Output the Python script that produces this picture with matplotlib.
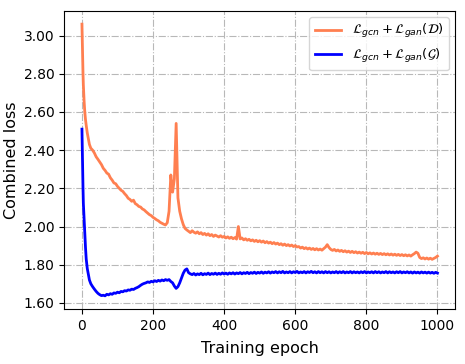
import numpy as np
import matplotlib
matplotlib.use('Agg')
import matplotlib.pyplot as plt
from matplotlib.ticker import FormatStrFormatter

# epochs: dense at the start, then every 5 epochs
epochs = [0, 1, 2, 3, 4, 6, 8, 10, 12, 15, 18, 21, 25] + list(range(30, 1001, 5))

# L_gcn + L_gan(D)
loss_d = [3.06, 2.97, 2.88, 2.80, 2.74, 2.66, 2.60, 2.56, 2.53, 2.49, 2.46, 2.43, 2.41,
          2.400, 2.385, 2.365, 2.352, 2.338, 2.324, 2.305, 2.294, 2.280, 2.274,
          2.255, 2.243, 2.228, 2.224, 2.210, 2.200, 2.190, 2.184, 2.172, 2.162,
          2.148, 2.142, 2.132, 2.138, 2.120, 2.114, 2.105, 2.102, 2.092, 2.087,
          2.078, 2.070, 2.062, 2.057, 2.048, 2.042, 2.035, 2.030, 2.022, 2.017,
          2.012, 2.008, 2.020, 2.080, 2.270, 2.180, 2.250, 2.540, 2.150, 2.080,
          2.040, 2.010, 1.990, 1.982, 1.975, 1.968, 1.978, 1.970, 1.965, 1.972,
          1.962, 1.968, 1.958, 1.964, 1.955, 1.962, 1.952, 1.958, 1.948, 1.955,
          1.950, 1.945, 1.952, 1.944, 1.948, 1.940, 1.946, 1.938, 1.944, 1.936,
          1.942, 1.934, 2.000, 1.935, 1.940, 1.930, 1.936, 1.928, 1.933, 1.925,
          1.930, 1.922, 1.928, 1.920, 1.926, 1.918, 1.924, 1.915, 1.921, 1.913,
          1.918, 1.910, 1.916, 1.908, 1.913, 1.905, 1.910, 1.902, 1.908, 1.900,
          1.905, 1.898, 1.903, 1.895, 1.900, 1.893, 1.895, 1.887, 1.892, 1.884,
          1.889, 1.882, 1.887, 1.880, 1.885, 1.878, 1.884, 1.877, 1.882, 1.876,
          1.884, 1.892, 1.905, 1.890, 1.880, 1.875, 1.880, 1.872, 1.877, 1.870,
          1.875, 1.868, 1.873, 1.866, 1.871, 1.864, 1.870, 1.863, 1.868, 1.861,
          1.866, 1.860, 1.865, 1.858, 1.864, 1.857, 1.862, 1.856, 1.861, 1.855,
          1.860, 1.854, 1.859, 1.853, 1.858, 1.852, 1.857, 1.851, 1.856, 1.850,
          1.855, 1.849, 1.854, 1.848, 1.853, 1.847, 1.852, 1.846, 1.851, 1.845,
          1.852, 1.858, 1.866, 1.860, 1.838, 1.832, 1.836, 1.830, 1.835, 1.829,
          1.834, 1.828, 1.833, 1.838, 1.845]

# L_gcn + L_gan(G)
loss_g = [2.51, 2.40, 2.30, 2.20, 2.12, 2.04, 1.96, 1.89, 1.83, 1.78, 1.75, 1.72, 1.70,
          1.685, 1.672, 1.660, 1.650, 1.643, 1.638, 1.640, 1.637, 1.645, 1.642,
          1.648, 1.645, 1.652, 1.650, 1.656, 1.653, 1.660, 1.658, 1.664, 1.662,
          1.668, 1.666, 1.672, 1.670, 1.676, 1.680, 1.685, 1.692, 1.698, 1.702,
          1.705, 1.710, 1.707, 1.713, 1.710, 1.716, 1.712, 1.718, 1.714, 1.720,
          1.716, 1.722, 1.718, 1.722, 1.712, 1.705, 1.688, 1.676, 1.685, 1.705,
          1.730, 1.755, 1.772, 1.778, 1.758, 1.752, 1.748, 1.754, 1.746, 1.752,
          1.748, 1.755, 1.747, 1.753, 1.749, 1.756, 1.748, 1.754, 1.750, 1.756,
          1.749, 1.755, 1.750, 1.757, 1.751, 1.756, 1.750, 1.757, 1.752, 1.758,
          1.751, 1.757, 1.753, 1.759, 1.752, 1.758, 1.754, 1.760, 1.753, 1.759,
          1.755, 1.761, 1.754, 1.760, 1.756, 1.762, 1.755, 1.761, 1.757, 1.763,
          1.756, 1.762, 1.758, 1.764, 1.757, 1.763, 1.758, 1.765, 1.757, 1.762,
          1.758, 1.764, 1.757, 1.763, 1.759, 1.765, 1.757, 1.762, 1.758, 1.764,
          1.757, 1.763, 1.759, 1.765, 1.758, 1.763, 1.757, 1.764, 1.758, 1.763,
          1.757, 1.764, 1.758, 1.763, 1.757, 1.762, 1.758, 1.764, 1.757, 1.763,
          1.758, 1.764, 1.757, 1.762, 1.758, 1.764, 1.757, 1.763, 1.758, 1.762,
          1.757, 1.763, 1.758, 1.764, 1.757, 1.762, 1.758, 1.763, 1.757, 1.764,
          1.758, 1.763, 1.757, 1.762, 1.758, 1.764, 1.757, 1.763, 1.758, 1.762,
          1.757, 1.763, 1.758, 1.764, 1.757, 1.762, 1.758, 1.763, 1.757, 1.762,
          1.756, 1.762, 1.757, 1.761, 1.756, 1.762, 1.757, 1.761, 1.756, 1.761,
          1.756, 1.760, 1.755, 1.760, 1.756]

label_d = r'$\mathcal{L}_{gcn}+\mathcal{L}_{gan}(\mathcal{D})$'
label_g = r'$\mathcal{L}_{gcn}+\mathcal{L}_{gan}(\mathcal{G})$'

fig = plt.figure(figsize=(4.65, 3.64), dpi=100)
ax = fig.add_axes([0.138, 0.150, 0.841, 0.821])

ax.plot(epochs, loss_d, color='coral', linewidth=2.0, label=label_d)
ax.plot(epochs, loss_g, color='blue', linewidth=2.0, label=label_g)

ax.grid(True, linestyle='-.', color='#b8b8b8', linewidth=0.8)
ax.set_axisbelow(True)
ax.set_xticks([0, 200, 400, 600, 800, 1000])
ax.set_yticks([1.6, 1.8, 2.0, 2.2, 2.4, 2.6, 2.8, 3.0])
ax.yaxis.set_major_formatter(FormatStrFormatter('%.2f'))
ax.tick_params(labelsize=10)
for s in ax.spines.values():
    s.set_color('black')

ax.set_xlabel('Training epoch', fontsize=11.5, labelpad=6)
ax.set_ylabel('Combined loss', fontsize=11.5, labelpad=3)
ax.legend(loc='upper right', fontsize=9.5)

fig.savefig('out.png', dpi=100)
